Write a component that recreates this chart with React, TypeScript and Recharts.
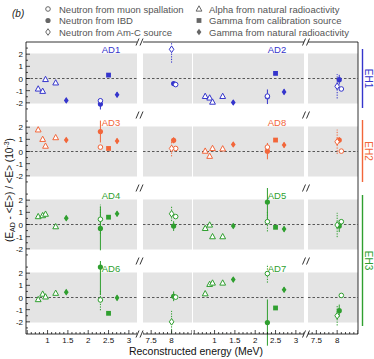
import React from "react";
import {
  ScatterChart,
  Scatter,
  XAxis,
  YAxis,
  ErrorBar,
  ReferenceArea,
  ReferenceLine,
} from "recharts";

// bias values are (E_AD - <E>) / <E> in units of 1e-3
const detectors = ["AD1", "AD2", "AD3", "AD8", "AD4", "AD5", "AD6", "AD7"];
const detectorColors = ["#3535cc", "#3535cc", "#f2663a", "#f2663a", "#2f9f2f", "#2f9f2f", "#2f9f2f", "#2f9f2f"];
const halls = ["EH1", "EH2", "EH3"];
const hallColors = ["#3535cc", "#f2663a", "#2f9f2f"];

const alphaEnergy = [0.77, 0.88, 0.95, 1.2];
const alphaBias = [
  [-0.86, -1.05, -0.08, -0.36],
  [-1.47, -1.6, -1.94, -1.47],
  [1.78, 1.0, 0.44, 1.14],
  [0.03, -0.39, 0.25, 0.22],
  [0.65, 0.73, 0.85, -0.18],
  [-0.32, -0.04, -1.0, -1.0],
  [-0.17, 0.28, 0.05, 0.35],
  [0.31, 1.08, 1.19, 1.19],
];

const gammaNatEnergy = [1.46, 2.71];
const gammaNatErr = [0.2, 0.22];
const gammaNatBias = [
  [-1.8, -1.33],
  [-1.97, -1.1],
  [0.94, 0.86],
  [0.58, 0.53],
  [0.52, 0.88],
  [-0.12, -0.38],
  [0.44, -0.03],
  [1.47, 0.64],
];

const gammaCalEnergy = 2.5;
const gammaCalBias = [0.28, 0.42, 0.25, 0.94, 0.6, -0.23, -1.3, -0.86];

const ibdEnergy = [2.3, 8.05];
const ibdBias = [
  [-2.1, -0.42],
  [-1.5, -0.1],
  [1.64, 0.92],
  [0.03, 0.94],
  [-0.32, -0.13],
  [1.85, -0.12],
  [2.5, 0.1],
  [-2.06, -1.08],
];
const ibdErr = [
  [0.45, 0.15],
  [0.6, 0.4],
  [0.9, 0.25],
  [0.67, 0.25],
  [1.8, 0.4],
  [1.45, 0.5],
  [2.3, 0.4],
  [1.9, 0.5],
];

const spallEnergy = [2.3, 8.1];
const spallBias = [
  [-1.83, -0.5],
  [-1.45, -0.86],
  [0.36, 0.25],
  [0.36, 0.03],
  [0.43, 0.65],
  [0.23, 0.23],
  [-0.2, 0.03],
  [1.97, 0.17],
];
const spallErr = [
  [0, 0],
  [0, 0],
  [0, 0],
  [0, 0],
  [1.2, 0],
  [0.8, 0],
  [0.85, 0],
  [0.75, 0],
];

const amcEnergy = 8.0;
const amcBias = [2.4, -0.64, 0.25, 0.8, 0.88, -0.04, -2.0, -1.5];
const amcErr = [1.1, 1.0, 0.65, 1.0, 0.6, 1.0, 0.9, 0.8];

const xLabelsLow = [1, 1.5, 2, 2.5, 3];
const xLabelsHigh = [7.5, 8];
const yLabels = [-2, -1, 0, 1, 2];

const legendLeft = [
  { kind: "openCircle", text: "Neutron from muon spallation" },
  { kind: "dot", text: "Neutron from IBD" },
  { kind: "openDiamond", text: "Neutron from Am-C source" },
];
const legendRight = [
  { kind: "openTriangle", text: "Alpha from natural radioactivity" },
  { kind: "square", text: "Gamma from calibration source" },
  { kind: "diamond", text: "Gamma from natural radioactivity" },
];

// layout
const FONT = "'Liberation Sans', Arial, sans-serif";
const ROW_TOP = 42;
const ROW_H = 73;
const COLS = [
  { lo: [26, 137], hi: [143, 192] },
  { lo: [193, 304], hi: [308, 358] },
];
const LO_DOMAIN = [0.47, 3.2];
const HI_DOMAIN = [7.3, 8.5];

const range = (a: number, b: number, step: number) => {
  const out: number[] = [];
  for (let v = a; v <= b + 1e-9; v += step) out.push(Math.round(v * 10) / 10);
  return out;
};
const loTicks = range(0.5, 3.2, 0.1);
const hiTicks = range(7.3, 8.5, 0.1);
const yTicks = range(-2.5, 2.5, 0.5);

const marker = (kind: string, color: string) => (p: any) => {
  const { cx, cy } = p;
  if (cx == null || cy == null) return <g />;
  switch (kind) {
    case "openCircle":
      return <circle cx={cx} cy={cy} r={2.3} fill="#fff" stroke={color} strokeWidth={1} />;
    case "dot":
      return <circle cx={cx} cy={cy} r={2.6} fill={color} />;
    case "openDiamond":
      return (
        <polygon
          points={`${cx},${cy - 3.3} ${cx + 2.3},${cy} ${cx},${cy + 3.3} ${cx - 2.3},${cy}`}
          fill="#fff"
          stroke={color}
          strokeWidth={1}
        />
      );
    case "diamond":
      return (
        <polygon
          points={`${cx},${cy - 3.3} ${cx + 2.4},${cy} ${cx},${cy + 3.3} ${cx - 2.4},${cy}`}
          fill={color}
        />
      );
    case "square":
      return <rect x={cx - 2.4} y={cy - 2.4} width={4.8} height={4.8} fill={color} />;
    default:
      return (
        <polygon
          points={`${cx},${cy - 3.2} ${cx + 2.9},${cy + 2.1} ${cx - 2.9},${cy + 2.1}`}
          fill="#fff"
          stroke={color}
          strokeWidth={1}
        />
      );
  }
};

const XTick = (props: any) => {
  const { x, y, payload, labels } = props;
  const v = payload.value;
  const major = Math.abs(v * 2 - Math.round(v * 2)) < 1e-6;
  const show = labels && labels.some((l: number) => Math.abs(l - v) < 1e-6);
  return (
    <g>
      <line x1={x} x2={x} y1={y} y2={y - (major ? 4 : 2)} stroke="#000" strokeWidth={0.7} />
      {show && (
        <text x={x} y={y + 9} textAnchor="middle" fontSize={8} fill="#111" fontFamily={FONT}>
          {v}
        </text>
      )}
    </g>
  );
};

const YTick = (props: any) => {
  const { x, y, payload, showLabel } = props;
  const v = payload.value;
  const major = Number.isInteger(v);
  return (
    <g>
      <line x1={x} x2={x + (major ? 4 : 2)} y1={y} y2={y} stroke="#000" strokeWidth={0.7} />
      {showLabel && yLabels.includes(v) && (
        <text x={x - 3} y={y + 3} textAnchor="end" fontSize={8} fill="#111" fontFamily={FONT}>
          {v}
        </text>
      )}
    </g>
  );
};

function seriesFor(det: number) {
  return [
    { kind: "diamond", dash: undefined, data: gammaNatEnergy.map((e, k) => ({ x: e, y: gammaNatBias[det][k], err: gammaNatErr[k] })) },
    { kind: "square", dash: undefined, data: [{ x: gammaCalEnergy, y: gammaCalBias[det], err: 0 }] },
    { kind: "openTriangle", dash: undefined, data: alphaEnergy.map((e, k) => ({ x: e, y: alphaBias[det][k], err: 0 })) },
    { kind: "dot", dash: undefined, data: ibdEnergy.map((e, k) => ({ x: e, y: ibdBias[det][k], err: ibdErr[det][k] })) },
    { kind: "openCircle", dash: "1.3 1.3", data: spallEnergy.map((e, k) => ({ x: e, y: spallBias[det][k], err: spallErr[det][k] })) },
    { kind: "openDiamond", dash: "1.3 1.3", data: [{ x: amcEnergy, y: amcBias[det], err: amcErr[det] }] },
  ];
}

function SubPlot({ det, high }: { det: number; high: boolean }) {
  const row = Math.floor(det / 2);
  const col = det % 2;
  const color = detectorColors[det];
  const [x0, x1] = high ? COLS[col].hi : COLS[col].lo;
  const withLabels = col === 0 && !high;
  const yW = withLabels ? 16 : 0;
  const axH = row === 3 ? 14 : 0;
  const keep = (e: number) => (high ? e > 5 : e < 5);
  const series = seriesFor(det).map((s) => ({ ...s, data: s.data.filter((p) => keep(p.x)) }));
  return (
    <div style={{ position: "absolute", left: x0 - yW, top: ROW_TOP + row * ROW_H }}>
      <ScatterChart width={x1 - x0 + yW} height={ROW_H + axH} margin={{ top: 0, right: 0, bottom: 0, left: 0 }}>
        <XAxis
          type="number"
          dataKey="x"
          domain={high ? HI_DOMAIN : LO_DOMAIN}
          allowDataOverflow
          ticks={high ? hiTicks : loTicks}
          interval={0}
          height={axH}
          tickSize={0}
          tickMargin={0}
          tickLine={false}
          axisLine={{ stroke: "#000", strokeWidth: 0.8 }}
          tick={(p: any) => <XTick {...p} labels={row === 3 ? (high ? xLabelsHigh : xLabelsLow) : null} />}
        />
        <YAxis
          type="number"
          dataKey="y"
          domain={[-3, 3]}
          allowDataOverflow
          hide={high}
          width={yW}
          ticks={yTicks}
          interval={0}
          tickSize={0}
          tickMargin={0}
          tickLine={false}
          axisLine={{ stroke: "#000", strokeWidth: 0.8 }}
          tick={(p: any) => <YTick {...p} showLabel={withLabels} />}
        />
        <ReferenceArea y1={-2.05} y2={2.05} fill="#e4e4e4" fillOpacity={1} stroke="none" />
        <ReferenceLine y={0} stroke="#333" strokeDasharray="2.5 2" strokeWidth={0.8} />
        {series.map((s) => (
          <Scatter key={s.kind} data={s.data} shape={marker(s.kind, color)} isAnimationActive={false}>
            <ErrorBar
              dataKey="err"
              direction="y"
              width={0}
              stroke={color}
              strokeWidth={1}
              strokeDasharray={s.dash}
            />
          </Scatter>
        ))}
      </ScatterChart>
    </div>
  );
}

const breakMark = (gx: number, y: number, key: string) => (
  <g key={key} stroke="#000" strokeWidth={0.8}>
    <line x1={gx - 4} y1={y + 3.5} x2={gx - 1} y2={y - 3.5} />
    <line x1={gx} y1={y + 3.5} x2={gx + 3} y2={y - 3.5} />
  </g>
);

export default function App() {
  const rowLines = [0, 1, 2, 3, 4].map((r) => ROW_TOP + r * ROW_H);
  const hallSpans = [
    [49, 108],
    [120, 182],
    [195, 326],
  ];
  return (
    <div style={{ position: "absolute", left: 0, top: 0, width: 374, height: 359, background: "#fff", fontFamily: FONT }}>
      {detectors.map((_, i) => (
        <React.Fragment key={i}>
          <SubPlot det={i} high={false} />
          <SubPlot det={i} high={true} />
        </React.Fragment>
      ))}
      <svg width={374} height={359} style={{ position: "absolute", left: 0, top: 0, pointerEvents: "none" }} fontFamily={FONT}>
        <text x={12} y={17} fontSize={10} fontStyle="italic" fill="#222">
          (b)
        </text>
        {legendLeft.map((l, i) => (
          <g key={l.text}>
            {marker(l.kind, "#666")({ cx: 48, cy: 9 + i * 11.5 })}
            <text x={59} y={12.5 + i * 11.5} fontSize={9.5} fill="#555">
              {l.text}
            </text>
          </g>
        ))}
        {legendRight.map((l, i) => (
          <g key={l.text}>
            {marker(l.kind, "#666")({ cx: 199, cy: 9 + i * 11.5 })}
            <text x={209} y={12.5 + i * 11.5} fontSize={9.5} fill="#555">
              {l.text}
            </text>
          </g>
        ))}

        {/* frame */}
        <line x1={26} x2={137} y1={ROW_TOP} y2={ROW_TOP} stroke="#000" strokeWidth={0.8} />
        <line x1={143} x2={304} y1={ROW_TOP} y2={ROW_TOP} stroke="#000" strokeWidth={0.8} />
        <line x1={308} x2={358} y1={ROW_TOP} y2={ROW_TOP} stroke="#000" strokeWidth={0.8} />
        <line x1={358} x2={358} y1={ROW_TOP} y2={rowLines[4]} stroke="#000" strokeWidth={0.8} />
        {rowLines.map((y, r) => (
          <g key={r}>
            {breakMark(140, y, `a${r}`)}
            {breakMark(306.5, y, `b${r}`)}
          </g>
        ))}

        {/* panel labels */}
        {detectors.map((d, i) => (
          <text
            key={d}
            x={i % 2 === 0 ? 111 : 277}
            y={ROW_TOP + Math.floor(i / 2) * ROW_H + 11}
            fontSize={9.5}
            textAnchor="middle"
            fill={detectorColors[i]}
          >
            {d}
          </text>
        ))}

        {/* halls */}
        {halls.map((h, i) => {
          const [a, b] = hallSpans[i];
          const c = (a + b) / 2;
          return (
            <g key={h}>
              <line x1={362.5} x2={362.5} y1={a} y2={b} stroke={hallColors[i]} strokeWidth={1.4} />
              <text x={365} y={c} fontSize={10} fill={hallColors[i]} textAnchor="middle" transform={`rotate(90 365 ${c})`}>
                {h}
              </text>
            </g>
          );
        })}

        {/* axis titles */}
        <text x={196} y={355} fontSize={10.5} textAnchor="middle" fill="#111">
          Reconstructed energy (MeV)
        </text>
        <text x={13} y={190} fontSize={10} textAnchor="middle" fill="#111" transform="rotate(-90 13 190)">
          (E
          <tspan fontSize={7} dy={2}>
            AD
          </tspan>
          <tspan dy={-2}> - &lt;E&gt;) / &lt;E&gt; (10</tspan>
          <tspan fontSize={7} dy={-4}>
            -3
          </tspan>
          <tspan dy={4}>)</tspan>
        </text>
      </svg>
    </div>
  );
}
